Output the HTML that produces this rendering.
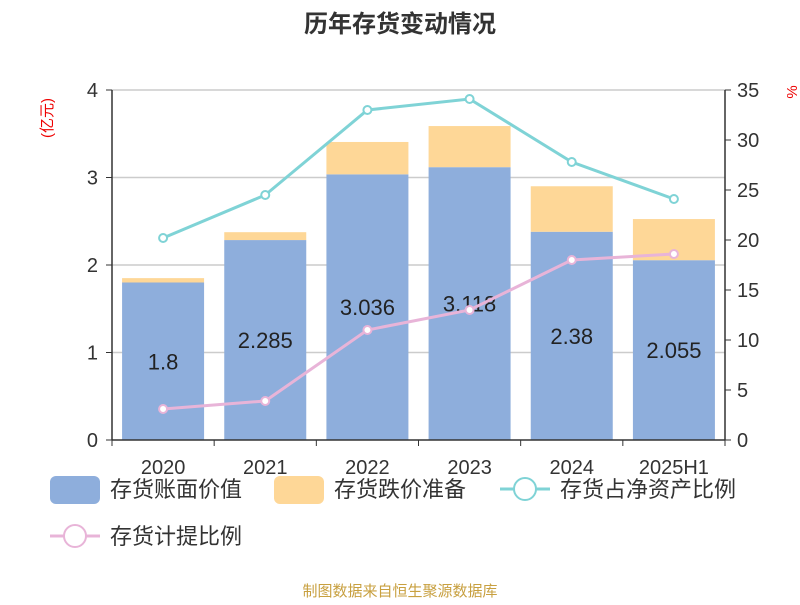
<!DOCTYPE html>
<html><head><meta charset="utf-8"><style>
body{margin:0;background:#fff;}
svg text{font-family:"Liberation Sans","Noto Sans CJK SC",sans-serif;}
</style></head><body>
<svg id="chart" width="800" height="600" viewBox="0 0 800 600">
<text x="400" y="32" text-anchor="middle" font-size="24" font-weight="bold" fill="#333">历年存货变动情况</text>
<text transform="translate(52,118) rotate(-90)" text-anchor="middle" font-size="15" fill="#e00">(亿元)</text>
<text transform="translate(797,92) rotate(-90)" text-anchor="middle" font-size="15" fill="#e00">%</text>
<g id="grid"></g><g id="bars"></g><g id="lines"></g><g id="axes"></g>
<g>
<rect x="50" y="476" width="50" height="28" rx="6" fill="#8eaedc"/>
<text x="110" y="497" font-size="22" fill="#333">存货账面价值</text>
<rect x="274" y="476" width="50" height="28" rx="6" fill="#fed797"/>
<text x="334" y="497" font-size="22" fill="#333">存货跌价准备</text>
<line x1="500" y1="489" x2="550" y2="489" stroke="#7fd3d6" stroke-width="3"/>
<circle cx="525" cy="489" r="11" fill="#fff" stroke="#7fd3d6" stroke-width="2"/>
<text x="560" y="497" font-size="22" fill="#333">存货占净资产比例</text>
<line x1="50" y1="536" x2="100" y2="536" stroke="#e8b4d8" stroke-width="3"/>
<circle cx="75" cy="536" r="11" fill="#fff" stroke="#e8b4d8" stroke-width="2"/>
<text x="110" y="544" font-size="22" fill="#333">存货计提比例</text>
</g>
<text x="400" y="596" text-anchor="middle" font-size="15" fill="#c8a040">制图数据来自恒生聚源数据库</text>
</svg>
<script>
const categories=["2020","2021","2022","2023","2024","2025H1"];
const bookValues=[1.8,2.285,3.036,3.118,2.38,2.055];
const reserveValues=[0.05,0.09,0.37,0.47,0.52,0.47];
const ratioValues=[20.2,24.5,33,34.1,27.8,24.1];
const provisionValues=[3.1,3.9,11,13,18,18.6];
const leftTicks=[0,1,2,3,4];
const rightTicks=[0,5,10,15,20,25,30,35];
const NS="http://www.w3.org/2000/svg";
const X0=112,X1=725,Y0=440,Y1=90;
const step=(X1-X0)/categories.length;
const xc=i=>X0+step*(i+0.5);
const yl=v=>Y0-(Y0-Y1)*v/4;
const yr=v=>Y0-(Y0-Y1)*v/35;
function mk(tag,attrs,parent,txt){const e=document.createElementNS(NS,tag);for(const k in attrs)e.setAttribute(k,attrs[k]);if(txt!==undefined)e.textContent=txt;document.getElementById(parent).appendChild(e);return e;}
leftTicks.forEach(t=>{
 if(t>0){const g=mk('line',{x1:X0,x2:X1,y1:yl(t),y2:yl(t),stroke:'#ccc','stroke-width':1.5},'grid');
 
 }
 const l=mk('text',{x:X0-14,y:yl(t)+7,'text-anchor':'end','font-size':20,fill:'#333'},'axes',String(t));
 
 
 const tk=mk('line',{x1:X0-6,x2:X0,y1:yl(t),y2:yl(t),stroke:'#333'},'axes');
 
 
});
rightTicks.forEach(t=>{
 const l=mk('text',{x:X1+12,y:yr(t)+7,'font-size':20,fill:'#333'},'axes',String(t));
 
 
 const tk=mk('line',{x1:X1,x2:X1+6,y1:yr(t),y2:yr(t),stroke:'#333'},'axes');
 
 
});
[['left-axis',X0],['right-axis',X1]].forEach(([n,x])=>{
 const a=mk('line',{x1:x,x2:x,y1:Y1,y2:Y0,stroke:'#333','stroke-width':1.5},'axes');
 
 
});
const xa=mk('line',{x1:X0,x2:X1,y1:Y0,y2:Y0,stroke:'#333','stroke-width':1.5},'axes');


const bw=82;
categories.forEach((c,i)=>{
 for(let k=0;k<=categories.length;k++){}
 const tk=mk('line',{x1:X0+step*i,x2:X0+step*i,y1:Y0,y2:Y0+6,stroke:'#333'},'axes');
 
 
 const b=mk('rect',{x:xc(i)-bw/2,y:yl(bookValues[i]),width:bw,height:Y0-yl(bookValues[i]),fill:'#8eaedc'},'bars');
 
 
 const top=bookValues[i]+reserveValues[i];
 const r=mk('rect',{x:xc(i)-bw/2,y:yl(top),width:bw,height:yl(bookValues[i])-yl(top),fill:'#fed797'},'bars');
 
 
 const v=mk('text',{x:xc(i),y:(Y0+yl(bookValues[i]))/2+8,'text-anchor':'middle','font-size':22,fill:'#222'},'lines',String(bookValues[i]));
 
 
 const xl=mk('text',{x:xc(i),y:474,'text-anchor':'middle','font-size':20,fill:'#333'},'axes',c);
 
 
});
const tkEnd=mk('line',{x1:X1,x2:X1,y1:Y0,y2:Y0+6,stroke:'#333'},'axes');


[[ratioValues,'#7fd3d6','ratio'],[provisionValues,'#e8b4d8','provision']].forEach(([vals,col,n])=>{
 const p=mk('polyline',{points:vals.map((v,i)=>xc(i)+','+yr(v)).join(' '),fill:'none',stroke:col,'stroke-width':3},'lines');
 
 
 vals.forEach((v,i)=>{
  const c=mk('circle',{cx:xc(i),cy:yr(v),r:4,fill:'#fff',stroke:col,'stroke-width':2},'lines');
  
  
 });
});
</script>
</body></html>
